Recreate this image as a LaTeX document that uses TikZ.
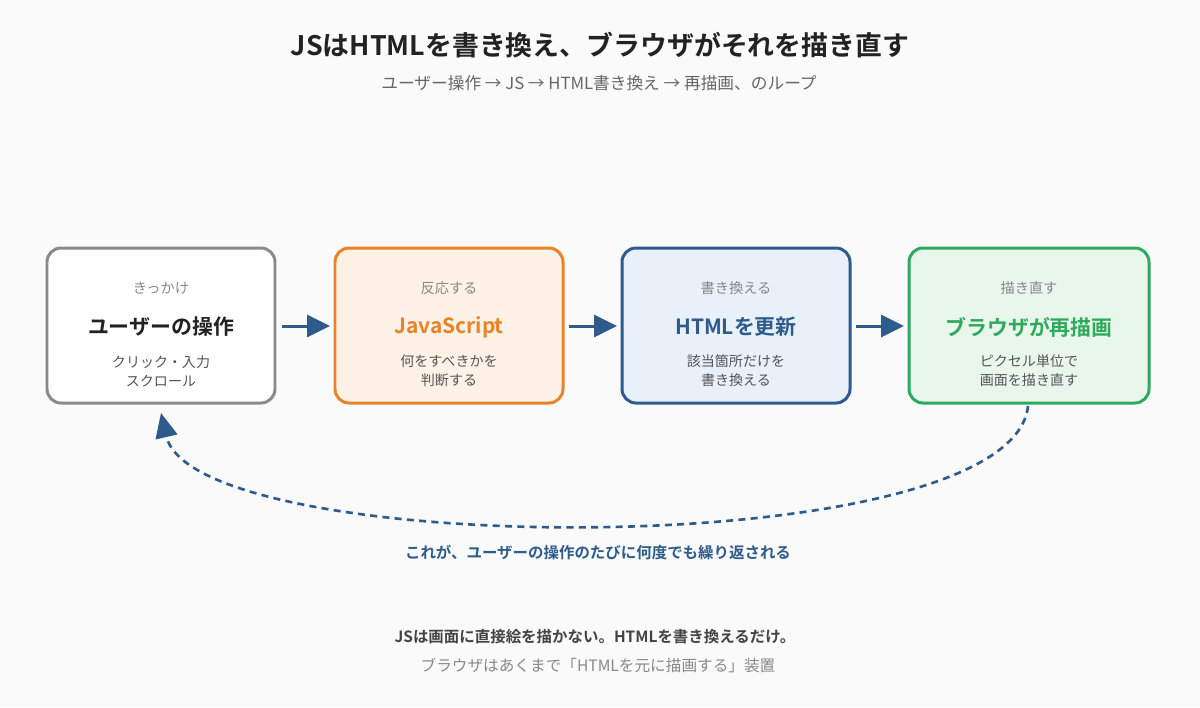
\documentclass[tikz,border=0pt]{standalone}
\usepackage{fontspec}
\setmainfont{Noto Sans CJK JP}[BoldFont={Noto Sans CJK JP Bold}]
\usetikzlibrary{arrows.meta}
\definecolor{bg}{HTML}{FAFAFA}
\definecolor{ink}{HTML}{222222}
\definecolor{sub}{HTML}{666666}
\definecolor{lbl}{HTML}{888888}
\definecolor{desc}{HTML}{555555}
\definecolor{blueC}{HTML}{2D5B8C}
\definecolor{blueF}{HTML}{E8F0FA}
\definecolor{orangeC}{HTML}{E8832A}
\definecolor{orangeF}{HTML}{FEF1E6}
\definecolor{greenC}{HTML}{2EAA5C}
\definecolor{greenF}{HTML}{E8F6EC}
\definecolor{grayC}{HTML}{8A8A8A}
\tikzset{
  card/.style={draw, line width=1.7pt, rounded corners=8pt, inner sep=0pt},
  lbltext/.style={text=lbl, font=\fontsize{8.1pt}{10pt}\selectfont, anchor=center},
  maintext/.style={font=\bfseries\fontsize{11.9pt}{14pt}\selectfont, anchor=center},
  desctext/.style={text=desc, font=\fontsize{8pt}{10.8pt}\selectfont, align=center, anchor=center},
  flow/.style={blueC, line width=1.7pt, -{Triangle[length=13pt,width=12.5pt]}},
  loop/.style={blueC, line width=1.5pt, dash pattern=on 4pt off 3pt, -{Triangle[length=14pt,width=12.5pt]}}
}
\begin{document}
\begin{tikzpicture}[x=0.02cm,y=-0.02cm]
\fill[bg] (0,0) rectangle (1200,707);
\useasboundingbox (0,0) rectangle (1200,707);

\node[text=ink, font=\bfseries\fontsize{15.3pt}{18pt}\selectfont] (title) at (600,45) {JSはHTMLを書き換え、ブラウザがそれを描き直す};
\node[text=sub, font=\fontsize{9.5pt}{11pt}\selectfont] (subtitle) at (599,83) {ユーザー操作 → JS → HTML書き換え → 再描画、のループ};

% cards
\draw[card, grayC, fill=white] (47,248) rectangle (275,403);
\draw[card, orangeC, fill=orangeF] (335,248) rectangle (563,403);
\draw[card, blueC, fill=blueF] (622,248) rectangle (850,403);
\draw[card, greenC, fill=greenF] (909,248) rectangle (1149,403);

\node[lbltext] (l1) at (161,288) {きっかけ};
\node[maintext, text=ink] (m1) at (161,327) {ユーザーの操作};
\node[desctext] (d1) at (161,371) {クリック・入力\\スクロール};

\node[lbltext] (l2) at (449,288) {反応する};
\node[maintext, text=orangeC] (m2) at (449,327) {JavaScript};
\node[desctext] (d2) at (449,371) {何をすべきかを\\判断する};

\node[lbltext] (l3) at (736,288) {書き換える};
\node[maintext, text=blueC] (m3) at (736,327) {HTMLを更新};
\node[desctext] (d3) at (736,371) {該当箇所だけを\\書き換える};

\node[lbltext] (l4) at (1029,288) {描き直す};
\node[maintext, text=greenC] (m4) at (1029,327) {ブラウザが再描画};
\node[desctext] (d4) at (1029,371) {ピクセル単位で\\画面を描き直す};

% flow arrows
\coordinate (a1s) at (282,326); \coordinate (a1e) at (330,326);
\coordinate (a2s) at (569,326); \coordinate (a2e) at (617,326);
\coordinate (a3s) at (856,326); \coordinate (a3e) at (904,326);
\draw[flow] (a1s) -- (a1e);
\draw[flow] (a2s) -- (a2e);
\draw[flow] (a3s) -- (a3e);

% loop
\coordinate (ls) at (1028,406);
\coordinate (le) at (161,413);
\draw[loop] (ls) .. controls (1012,565) and (195,560) .. (le);
\node[text=blueC, font=\bfseries\fontsize{8.8pt}{10pt}\selectfont] (looplbl) at (598,553) {これが、ユーザーの操作のたびに何度でも繰り返される};

\node[text=ink!85, font=\bfseries\fontsize{8.8pt}{10pt}\selectfont] (note1) at (595,637) {JSは画面に直接絵を描かない。HTMLを書き換えるだけ。};
\node[text=lbl, font=\fontsize{8.9pt}{10pt}\selectfont] (note2) at (598,665) {ブラウザはあくまで「HTMLを元に描画する」装置};
\end{tikzpicture}
\end{document}
